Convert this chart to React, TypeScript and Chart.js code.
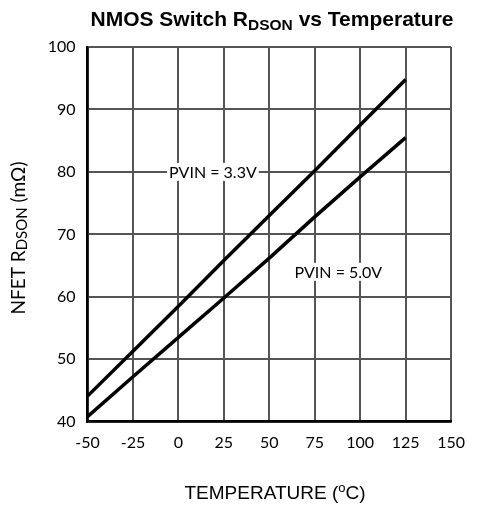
import { useEffect, useRef } from "react";
import { Chart, registerables } from "chart.js";

Chart.register(...registerables);

const temperatures = [-50, -25, 0, 25, 50, 75, 100, 125];
const rdsonPvin33 = [44.1, 51.3, 58.5, 65.8, 73.0, 80.2, 87.5, 94.8];
const rdsonPvin50 = [40.8, 47.2, 53.5, 59.8, 66.2, 72.8, 79.2, 85.5];
const xTickValues = [-50, -25, 0, 25, 50, 75, 100, 125, 150];
const yTickValues = [40, 50, 60, 70, 80, 90, 100];
const seriesLabels = ["PVIN = 3.3V", "PVIN = 5.0V"];
const labelTemps = [19, 88];
const labelValues = [80, 64];

type Seg = { t: string; f: string; dy: number };

function drawSegs(ctx: CanvasRenderingContext2D, segs: Seg[], cx: number, baseY: number) {
  let total = 0;
  for (const s of segs) {
    ctx.font = s.f;
    total += ctx.measureText(s.t).width;
  }
  let x = cx - total / 2;
  ctx.textAlign = "left";
  ctx.textBaseline = "alphabetic";
  for (const s of segs) {
    ctx.font = s.f;
    ctx.fillText(s.t, x, baseY + s.dy);
    x += ctx.measureText(s.t).width;
  }
}

const textPlugin = {
  id: "richText",
  afterDraw(chart: any) {
    const ctx: CanvasRenderingContext2D = chart.ctx;
    const xs = chart.scales.x;
    const ys = chart.scales.y;
    ctx.save();
    ctx.fillStyle = "#000";
    // title
    drawSegs(
      ctx,
      [
        { t: "NMOS Switch R", f: "bold 21px 'Liberation Sans'", dy: 0 },
        { t: "DSON", f: "bold 15.5px 'Liberation Sans'", dy: 4 },
        { t: " vs Temperature", f: "bold 21px 'Liberation Sans'", dy: 0 },
      ],
      272,
      26
    );
    // x title
    drawSegs(
      ctx,
      [
        { t: "TEMPERATURE (", f: "19px 'Liberation Sans'", dy: 0 },
        { t: "o", f: "13px 'Liberation Sans'", dy: -7 },
        { t: "C)", f: "19px 'Liberation Sans'", dy: 0 },
      ],
      275,
      499
    );
    // y title
    ctx.save();
    ctx.translate(25, 238);
    ctx.rotate(-Math.PI / 2);
    drawSegs(
      ctx,
      [
        { t: "NFET R", f: "19px Lato", dy: 0 },
        { t: "DSON", f: "15px Lato", dy: 2 },
        { t: " (m\u03A9)", f: "19px Lato", dy: 0 },
      ],
      0,
      0
    );
    ctx.restore();
    // series labels
    ctx.font = "16px Lato";
    ctx.textAlign = "center";
    ctx.textBaseline = "middle";
    for (let i = 0; i < seriesLabels.length; i++) {
      const px = xs.getPixelForValue(labelTemps[i]);
      const py = ys.getPixelForValue(labelValues[i]);
      const w = ctx.measureText(seriesLabels[i]).width;
      ctx.fillStyle = "#fff";
      ctx.fillRect(px - w / 2 - 2, py - 9, w + 4, 18);
      ctx.fillStyle = "#000";
      ctx.fillText(seriesLabels[i], px, py + 1);
    }
    ctx.restore();
  },
};

export default function App() {
  const ref = useRef<HTMLCanvasElement | null>(null);
  useEffect(() => {
    if (!ref.current) return;
    const chart = new Chart(ref.current, {
      type: "line",
      data: {
        labels: temperatures,
        datasets: [
          {
            label: seriesLabels[0],
            data: temperatures.map((t, i) => ({ x: t, y: rdsonPvin33[i] })),
            borderColor: "#000",
            borderWidth: 3.5,
            pointRadius: 0,
            tension: 0,
          },
          {
            label: seriesLabels[1],
            data: temperatures.map((t, i) => ({ x: t, y: rdsonPvin50[i] })),
            borderColor: "#000",
            borderWidth: 3.5,
            pointRadius: 0,
            tension: 0,
          },
        ],
      },
      options: {
        animation: false,
        responsive: false,
        layout: { padding: { top: 47, right: 15, left: 0, bottom: 0 } },
        plugins: { legend: { display: false }, tooltip: { enabled: false }, title: { display: false } },
        scales: {
          x: {
            type: "linear",
            min: -50,
            max: 150,
            afterBuildTicks: (s: any) => {
              s.ticks = xTickValues.map((v) => ({ value: v }));
            },
            afterFit: (s: any) => {
              s.height = 84.3;
            },
            ticks: { font: { family: "Lato", size: 16 }, color: "#000", padding: 12, autoSkip: false, maxRotation: 0 },
            grid: { color: "#555", lineWidth: 2, drawTicks: false },
            border: { color: "#000", width: 2.5 },
          },
          y: {
            type: "linear",
            min: 40,
            max: 100,
            afterBuildTicks: (s: any) => {
              s.ticks = yTickValues.map((v) => ({ value: v }));
            },
            afterFit: (s: any) => {
              s.width = 87.5;
            },
            ticks: { font: { family: "Lato", size: 16 }, color: "#000", padding: 12 },
            grid: { color: "#555", lineWidth: 2, drawTicks: false },
            border: { color: "#000", width: 2.5 },
          },
        },
      },
      plugins: [textPlugin],
    });
    return () => chart.destroy();
  }, []);
  return (
    <div style={{ position: "absolute", left: 0, top: 0, width: 477, height: 506 }}>
      <canvas ref={ref} width={477} height={506} style={{ width: 477, height: 506 }} />
    </div>
  );
}
